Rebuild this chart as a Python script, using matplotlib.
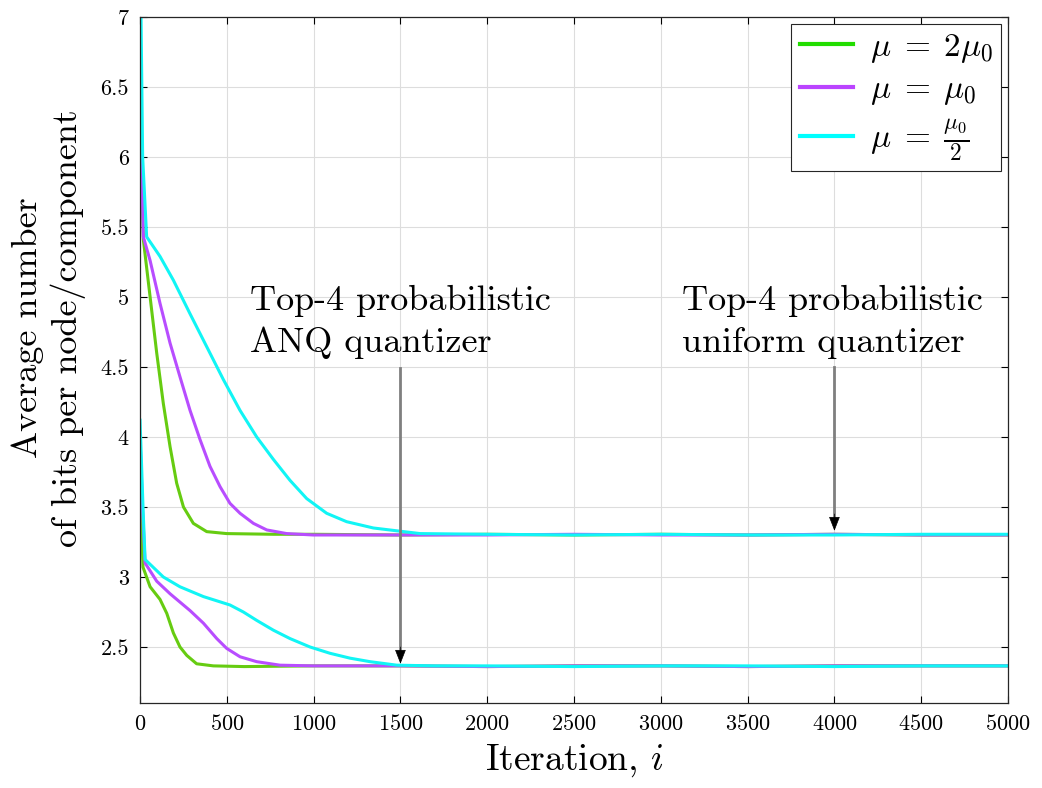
import numpy as np
import matplotlib.pyplot as plt
from matplotlib.lines import Line2D

plt.rcParams['font.family'] = ['cmr10', 'DejaVu Serif']
plt.rcParams['mathtext.fontset'] = 'cm'
plt.rcParams['axes.formatter.use_mathtext'] = True

# upper group: top-4 probabilistic uniform quantizer
it_u_2mu = [0, 5, 19, 58, 96, 134, 173, 211, 250, 307, 384, 499, 768, 1000, 1500, 2000, 2500, 3000, 3500, 4000, 4500, 5000]
bits_u_2mu = [6.9, 6.0, 5.41, 5.0, 4.60, 4.24, 3.93, 3.67, 3.50, 3.383, 3.324, 3.31, 3.305, 3.305, 3.30, 3.305, 3.30, 3.305, 3.30, 3.305, 3.30, 3.30]

it_u_mu = [0, 8, 19, 58, 115, 173, 230, 288, 346, 403, 461, 518, 576, 653, 730, 845, 998, 1500, 2000, 2500, 3000, 3500, 4000, 4500, 5000]
bits_u_mu = [7.0, 6.0, 5.43, 5.26, 4.955, 4.67, 4.43, 4.19, 3.98, 3.79, 3.645, 3.526, 3.455, 3.383, 3.336, 3.31, 3.30, 3.30, 3.30, 3.305, 3.30, 3.30, 3.305, 3.30, 3.30]

it_u_half = [0, 15, 38, 115, 192, 288, 384, 480, 576, 672, 768, 864, 960, 1075, 1190, 1344, 1498, 1613, 2000, 2500, 3000, 3500, 4000, 4500, 5000]
bits_u_half = [7.6, 6.0, 5.43, 5.29, 5.12, 4.88, 4.645, 4.41, 4.19, 4.0, 3.84, 3.69, 3.56, 3.455, 3.395, 3.35, 3.327, 3.31, 3.305, 3.30, 3.305, 3.30, 3.30, 3.305, 3.305]

# lower group: top-4 probabilistic ANQ quantizer
it_a_2mu = [0, 8, 17, 58, 115, 154, 192, 230, 269, 326, 422, 600, 1000, 1500, 2000, 2500, 3000, 3500, 4000, 4500, 5000]
bits_a_2mu = [3.9, 3.4, 3.07, 2.93, 2.84, 2.74, 2.60, 2.50, 2.44, 2.38, 2.365, 2.36, 2.365, 2.365, 2.36, 2.365, 2.365, 2.36, 2.365, 2.365, 2.365]

it_a_mu = [0, 14, 29, 96, 173, 288, 365, 442, 499, 576, 672, 806, 998, 1500, 2000, 2500, 3000, 3500, 4000, 4500, 5000]
bits_a_mu = [4.0, 3.5, 3.10, 2.97, 2.88, 2.76, 2.67, 2.56, 2.49, 2.43, 2.395, 2.37, 2.365, 2.365, 2.36, 2.365, 2.365, 2.36, 2.365, 2.365, 2.365]

it_a_half = [0, 17, 29, 134, 230, 365, 518, 595, 672, 768, 864, 979, 1094, 1210, 1325, 1479, 1700, 2000, 2500, 3000, 3500, 4000, 4500, 5000]
bits_a_half = [4.12, 3.5, 3.125, 3.0, 2.93, 2.86, 2.80, 2.75, 2.69, 2.62, 2.56, 2.50, 2.455, 2.42, 2.395, 2.37, 2.365, 2.365, 2.36, 2.365, 2.365, 2.36, 2.365, 2.365]

labels = [r'$\mu\;=\;2\mu_0$', r'$\mu\;=\;\mu_0$', r'$\mu\;=\;\frac{\mu_0}{2}$']
c_green = '#66cc11'
c_purple = '#b84dff'
c_cyan = '#11f5f5'
leg_colors = ['#22dd00', '#bb44ff', '#00ffff']

fig = plt.figure(figsize=(10.42, 7.88), dpi=100)
ax = fig.add_axes([0.1344, 0.1079, 0.833, 0.8705])

lw = 2.2
ax.plot(it_u_2mu, bits_u_2mu, color=c_green, lw=lw)
ax.plot(it_a_2mu, bits_a_2mu, color=c_green, lw=lw)
ax.plot(it_u_mu, bits_u_mu, color=c_purple, lw=lw)
ax.plot(it_a_mu, bits_a_mu, color=c_purple, lw=lw)
ax.plot(it_u_half, bits_u_half, color=c_cyan, lw=lw)
ax.plot(it_a_half, bits_a_half, color=c_cyan, lw=lw)

ax.set_xlim(0, 5000)
ax.set_ylim(2.1, 7)
ax.set_xticks(np.arange(0, 5001, 500))
ax.set_yticks(np.arange(2.5, 7.01, 0.5))
ax.set_yticklabels(['2.5', '3', '3.5', '4', '4.5', '5', '5.5', '6', '6.5', '7'])
ax.tick_params(direction='in', top=True, right=True, labelsize=16, length=5, width=0.8, pad=8)
ax.grid(True, color='#dddddd', lw=0.8)
ax.set_axisbelow(True)
for s in ax.spines.values():
    s.set_linewidth(0.9)
    s.set_color('#262626')

ax.set_xlabel(r'Iteration, $i$', fontsize=27, labelpad=6)
ax.set_ylabel('Average number\nof bits per node/component', fontsize=26, linespacing=1.25)
ax.yaxis.set_label_coords(-0.062, 0.547)

# annotations
ax.text(634, 4.907, 'Top-4 probabilistic', fontsize=26, va='baseline')
ax.text(634, 4.607, 'ANQ quantizer', fontsize=26, va='baseline')
ax.text(3122, 4.907, 'Top-4 probabilistic', fontsize=26, va='baseline')
ax.text(3122, 4.607, 'uniform quantizer', fontsize=26, va='baseline')

for xa, ytop, ytip in [(1500, 4.49, 2.38), (4000, 4.5, 3.33)]:
    ax.plot([xa, xa], [ytop, ytip + 0.08], color='#7f7f7f', lw=2)
    ax.annotate('', xy=(xa, ytip), xytext=(xa, ytip + 0.12),
                arrowprops=dict(arrowstyle='-|>,head_length=0.9,head_width=0.35',
                                color='black', lw=0.5, shrinkA=0, shrinkB=0))

handles = [Line2D([], [], color=c, lw=3) for c in leg_colors]
leg = ax.legend(handles, labels, loc='upper right', fontsize=24, handlelength=1.6,
                frameon=True, fancybox=False, borderaxespad=0.2, labelspacing=0.3,
                handletextpad=0.5, borderpad=0.25)
leg.get_frame().set_edgecolor('#262626')
leg.get_frame().set_linewidth(0.8)
leg.get_frame().set_alpha(1)

fig.savefig('out.png', dpi=100)
